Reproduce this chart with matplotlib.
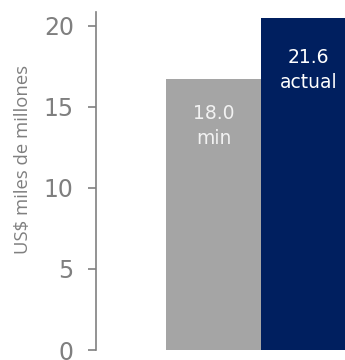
import matplotlib.pyplot as plt

# bar heights as drawn, and the labels printed on them
categories = ['min', 'actual']
heights = [16.7, 20.5]
values = ['18.0', '21.6']
colors = ['#a5a5a5', '#001f5f']
yticks = [0, 5, 10, 15, 20]

fig = plt.figure(figsize=(3.45, 3.6), dpi=100)
ax = fig.add_axes([96/345, 10/360, 1 - 96/345, 338/360])

x = range(len(categories))
bars = ax.bar(x, heights, width=1.0, color=colors)

ax.set_xlim(-1.237, 1.384)
ax.set_ylim(0, 20.85)
ax.set_yticks(yticks)
ax.set_xticks([])

for s in ['top', 'right', 'bottom']:
    ax.spines[s].set_visible(False)
ax.spines['left'].set_color('#808080')
ax.spines['left'].set_linewidth(1.2)
ax.tick_params(axis='y', colors='#808080', labelsize=17, length=6, width=1.2, pad=10)
for lab in ax.get_yticklabels():
    lab.set_color('#7f7f7f')

ax.set_ylabel('US$ miles de millones', fontsize=13.3, family='Open Sans',
              color='#7f7f7f')
ax.yaxis.set_label_coords(-0.258, 0.565)

label_colors = ['#f2f2f2', '#ffffff']
offsets = [-25, -30]
for rect, v, c, lc, off in zip(bars, values, categories, label_colors, offsets):
    cx = rect.get_x() + rect.get_width() / 2
    ax.annotate('{}\n{}'.format(v, c), xy=(cx, rect.get_height()),
                xytext=(0, off), textcoords='offset pixels',
                ha='center', va='top', fontsize=13.5, color=lc, linespacing=1.4)

plt.savefig('out.png', dpi=100)
